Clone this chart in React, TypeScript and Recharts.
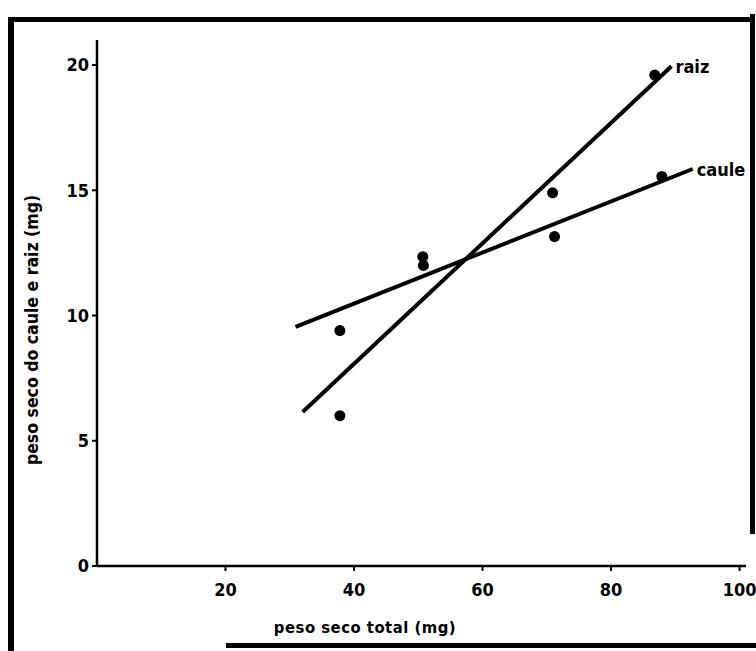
import { ScatterChart, Scatter, XAxis, YAxis } from "recharts";

// values
const xTicks = [20, 40, 60, 80, 100];
const yTicks = [0, 5, 10, 15, 20];

const raizPoints = [
  { x: 37.8, y: 6.0 },
  { x: 50.8, y: 12.0 },
  { x: 70.9, y: 14.9 },
  { x: 86.8, y: 19.6 },
];
const caulePoints = [
  { x: 37.8, y: 9.4 },
  { x: 50.7, y: 12.35 },
  { x: 71.2, y: 13.15 },
  { x: 87.9, y: 15.55 },
];

// fitted regression lines (end points)
const raizFit = [
  { x: 32.0, y: 6.15 },
  { x: 89.4, y: 19.95 },
];
const cauleFit = [
  { x: 30.9, y: 9.55 },
  { x: 92.7, y: 15.85 },
];

const font = "'DejaVu Sans Condensed', 'Liberation Sans Narrow', sans-serif";

const dot = (props: any) => (
  <circle cx={props.cx} cy={props.cy} r={5.5} fill="#000" />
);

// line end points: draw nothing except the name at the last one
const endLabel = (name: string, last: { x: number; y: number }) => (props: any) => {
  if (props.payload && props.payload.x === last.x) {
    return (
      <text
        x={props.cx + 4}
        y={props.cy + 2}
        fontFamily={font}
        fontWeight="bold"
        fontSize={18}
        fill="#000"
        dominantBaseline="middle"
      >
        {name}
      </text>
    );
  }
  return <g />;
};

const YLabel = (props: any) => {
  const { viewBox } = props;
  const cx = viewBox.x + 23;
  const cy = viewBox.y + viewBox.height / 2 + 27;
  return (
    <text
      x={cx}
      y={cy}
      transform={`rotate(-90 ${cx} ${cy})`}
      textAnchor="middle"
      dominantBaseline="middle"
      fontFamily={font}
      fontWeight="bold"
      fontSize={17.5}
      fill="#000"
    >
      peso seco do caule e raiz (mg)
    </text>
  );
};

const XLabel = (props: any) => {
  const { viewBox } = props;
  return (
    <text
      x={viewBox.x + 268}
      y={viewBox.y + 62}
      textAnchor="middle"
      dominantBaseline="middle"
      fontFamily={font}
      fontWeight="bold"
      fontSize={16.5}
      letterSpacing={0.5}
      fill="#000"
    >
      peso seco total (mg)
    </text>
  );
};

const tickStyle = { fill: "#000", fontSize: 18, fontWeight: "bold", fontFamily: font };

export default function App() {
  return (
    <div
      style={{
        position: "absolute",
        left: 0,
        top: 0,
        width: 756,
        height: 651,
        background: "#fff",
        overflow: "hidden",
      }}
    >
      {/* scanned frame */}
      <div style={{ position: "absolute", left: 8, top: 17, width: 742, height: 5, background: "#000" }} />
      <div style={{ position: "absolute", left: 8, top: 17, width: 6, height: 634, background: "#000" }} />
      <div style={{ position: "absolute", left: 750, top: 14, width: 5, height: 520, background: "#000" }} />
      <div style={{ position: "absolute", left: 226, top: 643, width: 530, height: 5, background: "#000" }} />

      <div style={{ position: "absolute", left: 0, top: 0 }}>
        <ScatterChart
          width={756}
          height={651}
          margin={{ top: 40, right: 10, bottom: 25, left: 10 }}
        >
          <XAxis
            type="number"
            dataKey="x"
            domain={[0, 101]}
            ticks={xTicks}
            allowDataOverflow
            height={60}
            tick={tickStyle}
            tickSize={5}
            tickMargin={12}
            axisLine={{ stroke: "#000", strokeWidth: 2.5 }}
            tickLine={{ stroke: "#000", strokeWidth: 2 }}
            label={<XLabel />}
          />
          <YAxis
            type="number"
            dataKey="y"
            domain={[0, 21]}
            ticks={yTicks}
            allowDataOverflow
            width={87}
            tick={tickStyle}
            tickSize={5}
            tickMargin={3}
            axisLine={{ stroke: "#000", strokeWidth: 2.5 }}
            tickLine={{ stroke: "#000", strokeWidth: 2 }}
            label={<YLabel />}
          />
          <Scatter
            data={raizFit}
            line={{ stroke: "#000", strokeWidth: 4 }}
            shape={endLabel("raiz", raizFit[raizFit.length - 1])}
            isAnimationActive={false}
          />
          <Scatter
            data={cauleFit}
            line={{ stroke: "#000", strokeWidth: 4 }}
            shape={endLabel("caule", cauleFit[cauleFit.length - 1])}
            isAnimationActive={false}
          />
          <Scatter data={raizPoints} shape={dot} isAnimationActive={false} />
          <Scatter data={caulePoints} shape={dot} isAnimationActive={false} />
        </ScatterChart>
      </div>
    </div>
  );
}
